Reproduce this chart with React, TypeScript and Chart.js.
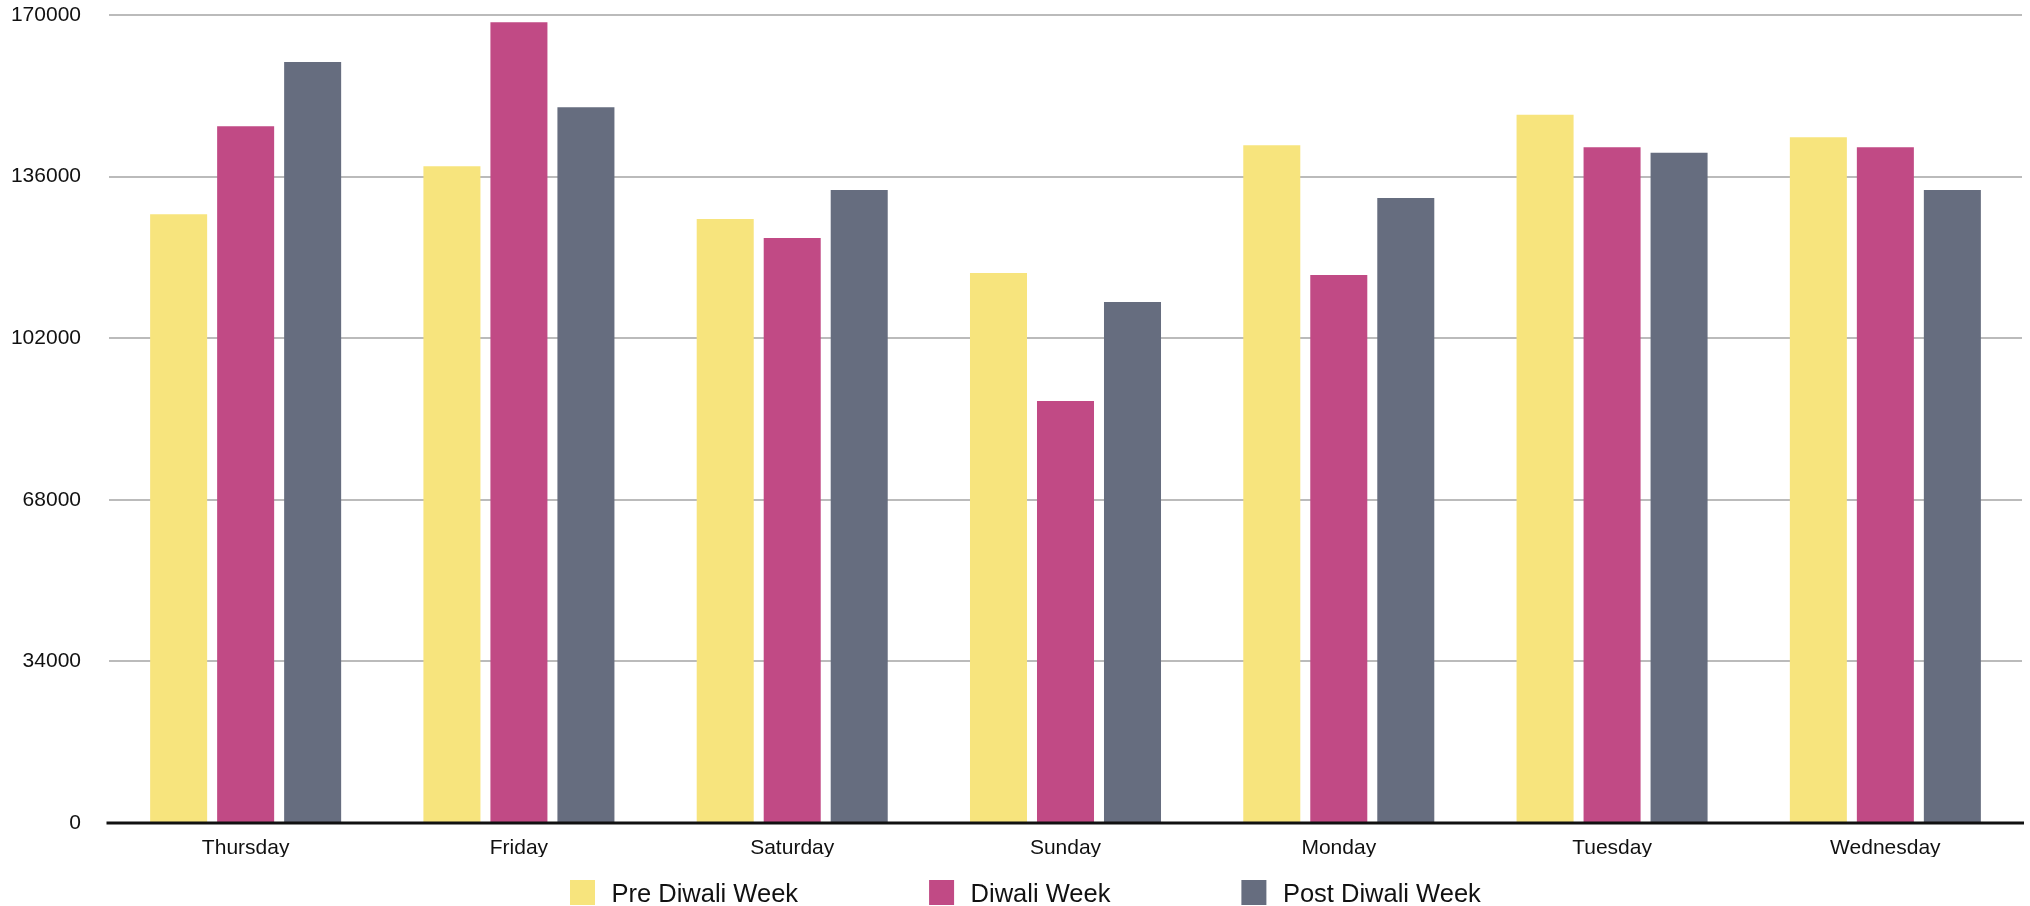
import React, { useEffect, useRef } from "react";
import { Chart, registerables } from "chart.js";

Chart.register(...registerables);

const categories = ["Thursday", "Friday", "Saturday", "Sunday", "Monday", "Tuesday", "Wednesday"];
const preDiwali = [128100, 138200, 127100, 115700, 142600, 149000, 144300];
const diwali = [146600, 168500, 123100, 88800, 115300, 142200, 142200];
const postDiwali = [160100, 150600, 133200, 109600, 131500, 141000, 133200];
const seriesNames = ["Pre Diwali Week", "Diwali Week", "Post Diwali Week"];
const seriesColors = ["#F7E47D", "#C14A85", "#666D7F"];
const yTicks = [0, 34000, 68000, 102000, 136000, 170000];

const FONT = "'Liberation Sans', Arial, Helvetica, sans-serif";

const overlayPlugin = {
  id: "overlay",
  afterDatasetsDraw(chart: any) {
    const ctx = chart.ctx;
    const area = chart.chartArea;
    const y0 = chart.scales.y.getPixelForValue(0);
    ctx.save();
    ctx.strokeStyle = "#111111";
    ctx.lineWidth = 3;
    ctx.beginPath();
    ctx.moveTo(area.left - 2.5, y0);
    ctx.lineTo(area.right + 2, y0);
    ctx.stroke();
    ctx.restore();
  },
  afterDraw(chart: any) {
    const ctx = chart.ctx;
    ctx.save();
    ctx.font = `25.5px ${FONT}`;
    ctx.textBaseline = "alphabetic";
    ctx.textAlign = "left";
    const boxSize = 25;
    const textGap = 16.5;
    const itemGap = 131;
    let x = 570;
    const boxTop = 880;
    chart.data.datasets.forEach((ds: any) => {
      ctx.fillStyle = ds.backgroundColor;
      ctx.fillRect(x, boxTop, boxSize, boxSize);
      ctx.fillStyle = "#111111";
      const tx = x + boxSize + textGap;
      ctx.fillText(ds.label, tx, 901.5);
      x = tx + ctx.measureText(ds.label).width + itemGap;
    });
    ctx.restore();
  },
};

export default function App() {
  const canvasRef = useRef<HTMLCanvasElement | null>(null);

  useEffect(() => {
    document.body.style.margin = "0";
    document.body.style.overflow = "hidden";
    const canvas = canvasRef.current;
    if (!canvas) return;
    const values = [preDiwali, diwali, postDiwali];
    const chart = new Chart(canvas, {
      type: "bar",
      data: {
        labels: categories,
        datasets: seriesNames.map((name, i) => ({
          label: name,
          data: values[i],
          backgroundColor: seriesColors[i],
          borderWidth: 0,
          categoryPercentage: 0.7355,
          barPercentage: 0.851,
        })),
      },
      options: {
        responsive: false,
        animation: false,
        devicePixelRatio: 1,
        layout: { padding: { top: 15, right: 8, bottom: 49, left: 0 } },
        plugins: {
          legend: { display: false },
          tooltip: { enabled: false },
          title: { display: false },
        },
        scales: {
          x: {
            grid: { display: false, drawTicks: false },
            border: { display: false },
            afterFit: (scale: any) => {
              scale.height = 34;
              scale.paddingLeft = 0;
              scale.paddingRight = 0;
            },
            ticks: {
              padding: 13,
              color: "#111111",
              font: { family: FONT, size: 21 },
              maxRotation: 0,
            },
          },
          y: {
            min: 0,
            max: 170000,
            afterBuildTicks: (scale: any) => {
              scale.ticks = yTicks.map((v) => ({ value: v }));
            },
            afterFit: (scale: any) => {
              scale.width = 109;
              scale.paddingTop = 0;
              scale.paddingBottom = 0;
            },
            grid: {
              drawTicks: false,
              lineWidth: 2,
              color: (c: any) => (c.tick && c.tick.value === 0 ? "rgba(0,0,0,0)" : "#BBBBBB"),
            },
            border: { display: false },
            ticks: {
              padding: 28,
              color: "#111111",
              font: { family: FONT, size: 21 },
              callback: (v: any) => String(v),
            },
          },
        },
      },
      plugins: [overlayPlugin],
    });
    return () => chart.destroy();
  }, []);

  return (
    <div style={{ width: 2030, height: 906 }}>
      <canvas ref={canvasRef} width={2030} height={906} style={{ display: "block" }} />
    </div>
  );
}
